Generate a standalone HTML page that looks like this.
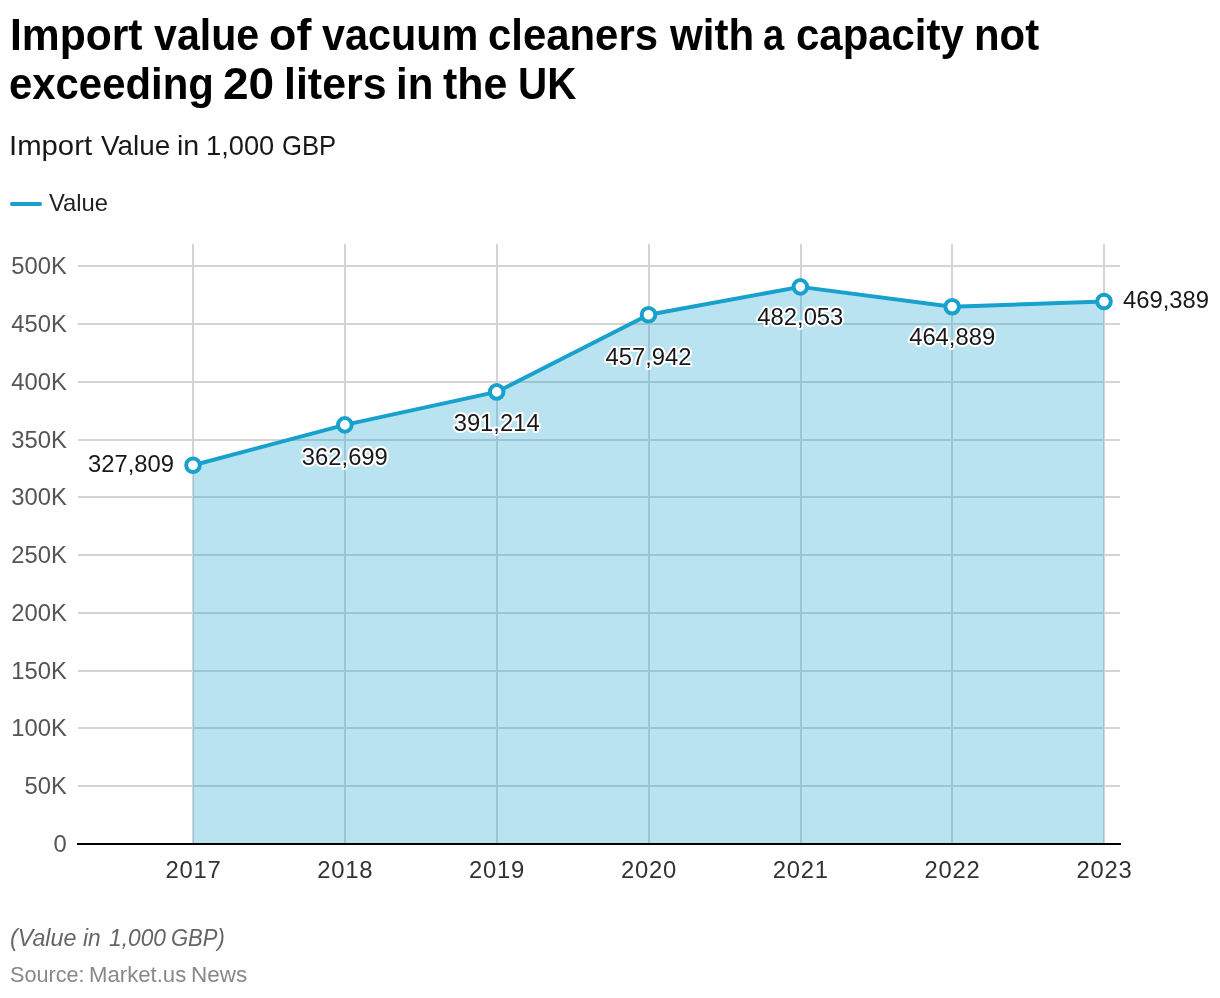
<!DOCTYPE html>
<html lang="en">
<head>
<meta charset="utf-8">
<title>Import value of vacuum cleaners with a capacity not exceeding 20 liters in the UK</title>
<style>
html,body{margin:0;padding:0;background:#fff;}
body{width:1220px;height:998px;overflow:hidden;font-family:"Liberation Sans",Arial,sans-serif;}
.chart{position:relative;width:1220px;height:998px;overflow:hidden;background:#fff;}
.t{position:absolute;left:0;margin:0;padding:0;line-height:1;white-space:nowrap;font-weight:400;width:1220px;}
.t .w{position:absolute;top:0;white-space:nowrap;transform-origin:0 0;}
.title{font-size:43.6px;font-weight:700;color:#000;}
.desc{font-size:27.8px;color:#181818;}
.legend-key{position:absolute;left:10px;top:202px;width:32px;height:4px;border-radius:2px;background:#18a1cd;}
.legend-label{font-size:23.8px;color:#222;}
.notes{font-size:23px;font-style:italic;color:#656565;}
.source{font-size:21.8px;color:#888;}
svg.plot{position:absolute;left:0;top:0;font-family:"Liberation Sans",Arial,sans-serif;}
</style>
</head>
<body>
<div class="chart">
<header>
<h1 class="t title l1" style="top:14.1px"><span class="w" style="left:9.9px;transform:scaleX(0.9773)">Import</span> <span class="w" style="left:154.1px;transform:scaleX(0.9436)">value</span> <span class="w" style="left:268.9px;transform:scaleX(1.0282)">of</span> <span class="w" style="left:321.5px;transform:scaleX(0.9488)">vacuum</span> <span class="w" style="left:487.9px;transform:scaleX(0.9607)">cleaners</span> <span class="w" style="left:669.5px;transform:scaleX(0.9643)">with</span> <span class="w" style="left:763.1px;transform:scaleX(0.8750)">a</span> <span class="w" style="left:796.3px;transform:scaleX(0.9616)">capacity</span> <span class="w" style="left:974.1px;transform:scaleX(0.9609)">not</span></h1>
<h1 class="t title l2" style="top:63.3px"><span class="w" style="left:9.4px;transform:scaleX(0.9606)">exceeding</span> <span class="w" style="left:222.5px;transform:scaleX(1.0556)">20</span> <span class="w" style="left:283.9px;transform:scaleX(0.9848)">liters</span> <span class="w" style="left:395.5px;transform:scaleX(0.9636)">in</span> <span class="w" style="left:443.2px;transform:scaleX(0.9841)">the</span> <span class="w" style="left:517.7px;transform:scaleX(0.9254)">UK</span></h1>
<p class="t desc" style="top:132.2px"><span class="w" style="left:8.5px;transform:scaleX(1.0539)">Import</span> <span class="w" style="left:100.8px;transform:scaleX(1.0015)">Value</span> <span class="w" style="left:176.6px;transform:scaleX(1.0278)">in</span> <span class="w" style="left:205.9px;transform:scaleX(0.9803)">1,000</span> <span class="w" style="left:281.6px;transform:scaleX(0.9214)">GBP</span></p>
</header>
<div class="legend"><span class="legend-key"></span><span class="t legend-label" style="top:191.1px"><span class="w" style="left:48.9px;transform:scaleX(1.0000)">Value</span></span></div>
<svg class="plot" width="1220" height="998" viewBox="0 0 1220 998">
<g class="grid-h" stroke="#d4d4d4" stroke-width="2" shape-rendering="crispEdges">
<line x1="78" x2="1120" y1="786" y2="786"/>
<line x1="78" x2="1120" y1="728" y2="728"/>
<line x1="78" x2="1120" y1="671" y2="671"/>
<line x1="78" x2="1120" y1="613" y2="613"/>
<line x1="78" x2="1120" y1="555" y2="555"/>
<line x1="78" x2="1120" y1="497" y2="497"/>
<line x1="78" x2="1120" y1="440" y2="440"/>
<line x1="78" x2="1120" y1="382" y2="382"/>
<line x1="78" x2="1120" y1="324" y2="324"/>
<line x1="78" x2="1120" y1="266" y2="266"/>
</g>
<g class="grid-v" stroke="#d4d4d4" stroke-width="2" shape-rendering="crispEdges">
<line x1="193" x2="193" y1="244" y2="844"/>
<line x1="345" x2="345" y1="244" y2="844"/>
<line x1="497" x2="497" y1="244" y2="844"/>
<line x1="649" x2="649" y1="244" y2="844"/>
<line x1="801" x2="801" y1="244" y2="844"/>
<line x1="952" x2="952" y1="244" y2="844"/>
<line x1="1104" x2="1104" y1="244" y2="844"/>
</g>
<polygon class="area" fill="#18a1cd" fill-opacity="0.3" points="193.00,844.00 193.00,465.26 344.83,424.90 496.67,391.92 648.50,314.74 800.33,286.86 952.17,306.71 1104.00,301.50 1104.00,844.00"/>
<line class="baseline" x1="77" x2="1121" y1="844" y2="844" stroke="#000" stroke-width="2" shape-rendering="crispEdges"/>
<polyline class="line" fill="none" stroke="#18a1cd" stroke-width="4" stroke-linejoin="round" stroke-linecap="round" points="193.00,465.26 344.83,424.90 496.67,391.92 648.50,314.74 800.33,286.86 952.17,306.71 1104.00,301.50"/>
<g class="markers" fill="#fff" stroke="#18a1cd" stroke-width="4">
<circle cx="193.00" cy="465.26" r="6.8"/>
<circle cx="344.83" cy="424.90" r="6.8"/>
<circle cx="496.67" cy="391.92" r="6.8"/>
<circle cx="648.50" cy="314.74" r="6.8"/>
<circle cx="800.33" cy="286.86" r="6.8"/>
<circle cx="952.17" cy="306.71" r="6.8"/>
<circle cx="1104.00" cy="301.50" r="6.8"/>
</g>
<g class="ylab" font-size="23.8" fill="#555" text-anchor="end">
<text x="66.8" y="852.3">0</text>
<text x="66.8" y="794.3">50K</text>
<text x="66.8" y="736.3">100K</text>
<text x="66.8" y="679.3">150K</text>
<text x="66.8" y="621.3">200K</text>
<text x="66.8" y="563.3">250K</text>
<text x="66.8" y="505.3">300K</text>
<text x="66.8" y="448.3">350K</text>
<text x="66.8" y="390.3">400K</text>
<text x="66.8" y="332.3">450K</text>
<text x="66.8" y="274.3">500K</text>
</g>
<g class="xlab" font-size="23.8" fill="#333" text-anchor="middle" letter-spacing="0.75">
<text x="193.40" y="878">2017</text>
<text x="345.23" y="878">2018</text>
<text x="497.07" y="878">2019</text>
<text x="648.90" y="878">2020</text>
<text x="800.73" y="878">2021</text>
<text x="952.57" y="878">2022</text>
<text x="1104.40" y="878">2023</text>
</g>
<g class="vlab" font-size="23.8" fill="#181818" stroke="#fff" stroke-width="4" stroke-linejoin="round" paint-order="stroke fill">
<text x="174.00" y="471.50" text-anchor="end" stroke="none">327,809</text>
<text x="344.83" y="464.50" text-anchor="middle">362,699</text>
<text x="496.67" y="431.00" text-anchor="middle">391,214</text>
<text x="648.50" y="364.50" text-anchor="middle">457,942</text>
<text x="800.33" y="325.20" text-anchor="middle">482,053</text>
<text x="952.17" y="344.80" text-anchor="middle">464,889</text>
<text x="1123.00" y="308.00" text-anchor="start" stroke="none">469,389</text>
</g>
</svg>
<footer>
<p class="t notes" style="top:926.6px"><span class="w" style="left:10.0px;transform:scaleX(1.0125)">(Value</span> <span class="w" style="left:83.1px;transform:scaleX(0.9882)">in</span> <span class="w" style="left:108.8px;transform:scaleX(0.9893)">1,000</span> <span class="w" style="left:170.6px;transform:scaleX(0.9556)">GBP)</span></p>
<p class="t source" style="top:964.0px"><span class="w" style="left:9.9px;transform:scaleX(0.9917)">Source:</span> <span class="w" style="left:88.6px;transform:scaleX(1.0161)">Market.us</span> <span class="w" style="left:190.9px;transform:scaleX(1.0327)">News</span></p>
</footer>
</div>
</body>
</html>
